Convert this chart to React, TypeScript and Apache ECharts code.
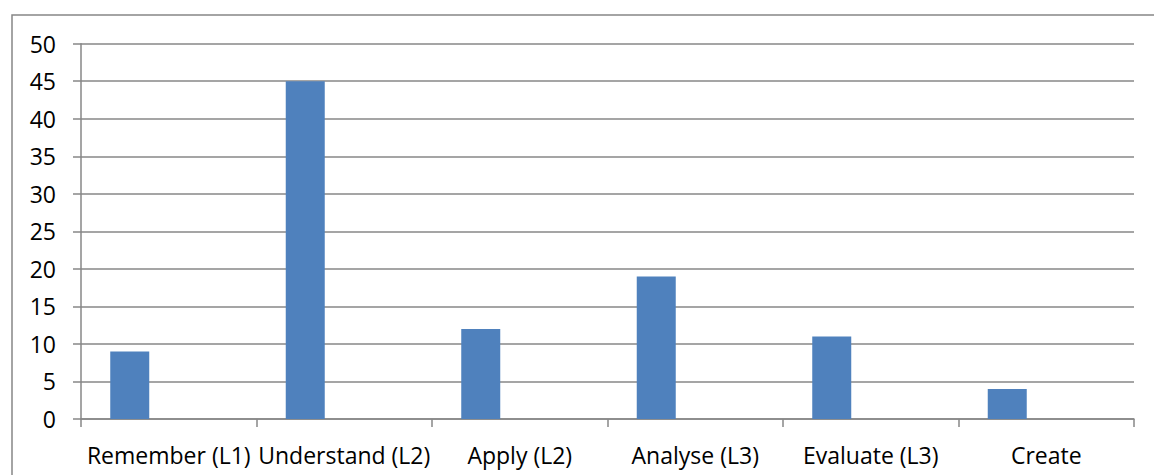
import React, { useEffect, useRef } from "react";
import * as echarts from "echarts";

const categories = [
  "Remember (L1)",
  "Understand (L2)",
  "Apply (L2)",
  "Analyse (L3)",
  "Evaluate (L3)",
  "Create",
];
const values = [9, 45, 12, 19, 11, 4];
const emptySeriesA: (number | null)[] = [null, null, null, null, null, null];
const emptySeriesB: (number | null)[] = [null, null, null, null, null, null];

export default function App() {
  const ref = useRef<HTMLDivElement>(null);
  useEffect(() => {
    document.body.style.margin = "0";
    const chart = echarts.init(ref.current!, null, { renderer: "svg" });
    const gridColor = "#878787";
    const font = "Open Sans";
    chart.setOption({
      animation: false,
      backgroundColor: "#ffffff",
      grid: { left: 81, right: 20, top: 43.7, bottom: 56, containLabel: false },
      graphic: [
        {
          type: "rect",
          shape: { x: 12, y: 15, width: 1200, height: 520 },
          style: { fill: "none", stroke: gridColor, lineWidth: 1.5 },
          silent: true,
        },
      ],
      xAxis: {
        type: "category",
        data: categories,
        axisLine: { show: true, lineStyle: { color: gridColor, width: 1.5 } },
        axisTick: { show: true, length: 8, lineStyle: { color: gridColor, width: 1.5 } },
        axisLabel: {
          interval: 0,
          margin: 24,
          color: "#000",
          fontFamily: font,
          fontSize: 23,
        },
        splitLine: { show: false },
      },
      yAxis: {
        type: "value",
        min: 0,
        max: 50,
        interval: 5,
        axisLine: { show: true, lineStyle: { color: gridColor, width: 1.5 } },
        axisTick: { show: true, length: 8, lineStyle: { color: gridColor, width: 1.5 } },
        axisLabel: {
          margin: 25,
          color: "#000",
          fontFamily: font,
          fontSize: 23,
        },
        splitLine: { show: true, lineStyle: { color: gridColor, width: 1.5 } },
      },
      series: [
        {
          type: "bar",
          data: values,
          barGap: "0%",
          barCategoryGap: "33.33%",
          itemStyle: { color: "#4F81BD" },
        },
        { type: "bar", data: emptySeriesA, barGap: "0%", barCategoryGap: "33.33%" },
        { type: "bar", data: emptySeriesB, barGap: "0%", barCategoryGap: "33.33%" },
      ],
    });
    return () => chart.dispose();
  }, []);
  return (
    <div
      ref={ref}
      style={{ position: "absolute", left: 0, top: 0, width: 1154, height: 475 }}
    />
  );
}
